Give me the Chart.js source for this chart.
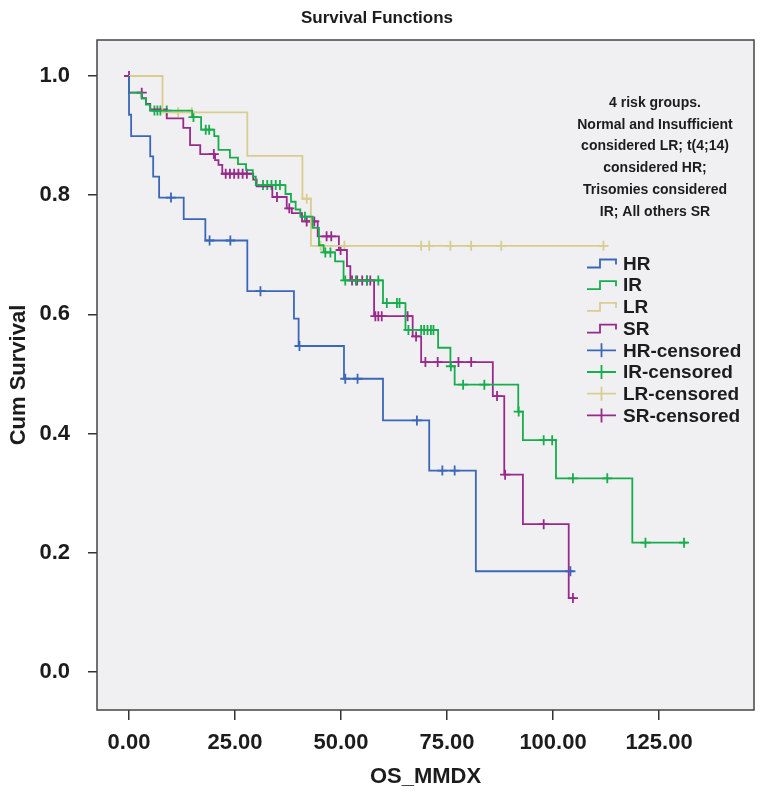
<!DOCTYPE html>
<html>
<head>
<meta charset="utf-8">
<script src="https://cdn.jsdelivr.net/npm/chart.js@4.4.0/dist/chart.umd.min.js"></script>
<style>
  body { margin: 0; background: #fff; }
</style>
</head>
<body>
<canvas id="grafico" width="764" height="798"></canvas>
<script>
// eixos
const xTicks = [0, 25, 50, 75, 100, 125];
const yTicks = [0, 0.2, 0.4, 0.6, 0.8, 1.0];

// HR
const hrTimes = [0, 0.5, 5.0, 5.7, 7.1, 12.9, 18.0, 27.9, 38.9, 40.0, 50.7, 59.9, 70.8, 81.8];
const hrSurv = [0.935, 0.899, 0.865, 0.831, 0.796, 0.760, 0.724, 0.639, 0.593, 0.547, 0.492, 0.422, 0.338, 0.169];
const hrEnd = 104.6;
const hrCensored = [9.9, 19.0, 23.9, 31.0, 40.2, 51.0, 53.9, 67.9, 73.9, 76.8, 104.1];

// IR
const irTimes = [0, 3.0, 4.0, 5.0, 14.9, 17.0, 20.1, 21.1, 23.8, 25.7, 27.6, 29.2, 29.9, 36.9, 38.2, 39.3, 40.4, 43.3, 44.8, 45.9, 48.6, 50.6, 59.9, 65.2, 72.9, 75.8, 76.8, 91.8, 92.9, 100.7, 118.7];
const irSurv = [0.972, 0.962, 0.952, 0.942, 0.931, 0.910, 0.899, 0.876, 0.863, 0.852, 0.842, 0.831, 0.817, 0.802, 0.789, 0.776, 0.764, 0.745, 0.716, 0.704, 0.689, 0.657, 0.619, 0.574, 0.544, 0.513, 0.482, 0.437, 0.389, 0.325, 0.217];
const irEnd = 131.7;
const irCensored = [6.0, 6.7, 7.4, 8.9, 15.2, 18.1, 18.9, 31.6, 32.6, 33.6, 34.6, 35.6, 41.5, 46.3, 47.5, 51.0, 53.5, 56.1, 58.8, 60.8, 63.2, 63.8, 65.9, 68.9, 69.6, 70.4, 71.2, 71.8, 75.9, 78.8, 83.8, 91.9, 97.8, 99.8, 104.7, 112.8, 121.8, 130.9];

// LR
const lrTimes = [7.9, 27.9, 40.9, 42.9];
const lrSurv = [0.939, 0.866, 0.794, 0.715];
const lrEnd = 112.4;
const lrCensored = [11.6, 14.8, 41.9, 45.2, 50.8, 68.9, 70.8, 75.8, 80.7, 87.8, 111.9];

// SR
const srTimes = [0, 3.0, 4.0, 5.0, 8.9, 12.8, 14.4, 16.8, 20.3, 21.1, 22.0, 29.3, 30.1, 33.8, 37.2, 38.4, 40.8, 44.5, 49.5, 51.4, 52.2, 57.8, 66.9, 68.9, 85.8, 88.5, 92.9, 103.7];
const srSurv = [0.972, 0.963, 0.953, 0.944, 0.929, 0.913, 0.884, 0.869, 0.859, 0.851, 0.836, 0.826, 0.815, 0.797, 0.778, 0.770, 0.756, 0.731, 0.708, 0.681, 0.657, 0.597, 0.563, 0.520, 0.463, 0.331, 0.248, 0.124];
const srEnd = 105.3;
const srCensored = [0, 3.0, 20.0, 22.8, 23.8, 24.8, 25.8, 26.8, 27.8, 34.9, 37.8, 41.9, 42.9, 43.7, 46.6, 47.7, 49.9, 52.6, 53.8, 55.0, 56.1, 56.9, 58.1, 58.8, 59.6, 65.7, 67.7, 69.9, 72.8, 77.7, 80.7, 86.8, 88.7, 97.8, 104.7];

const notaLinhas = ['4 risk groups.', 'Normal and Insufficient', 'considered LR; t(4;14)', 'considered HR;', 'Trisomies considered', 'IR; All others SR'];

const cores = { HR: '#3b67b8', IR: '#17ad4c', LR: '#d8cd8f', SR: '#982a8b' };
const fonte = "'Liberation Sans', Arial, sans-serif";

function curva(times, surv, end) {
    const pts = [{ x: 0, y: 1 }];
    times.forEach((t, i) => pts.push({ x: t, y: surv[i] }));
    pts.push({ x: end, y: surv[surv.length - 1] });
    return pts;
}

function survAt(times, surv, t) {
    let s = 1;
    times.forEach((ti, i) => { if (ti < t) s = surv[i]; });
    return s;
}

function censurados(times, surv, cens) {
    return cens.map(t => ({ x: t, y: survAt(times, surv, t) }));
}

const grupos = [
    { nome: 'HR', times: hrTimes, surv: hrSurv, end: hrEnd, cens: hrCensored },
    { nome: 'IR', times: irTimes, surv: irSurv, end: irEnd, cens: irCensored },
    { nome: 'LR', times: lrTimes, surv: lrSurv, end: lrEnd, cens: lrCensored },
    { nome: 'SR', times: srTimes, surv: srSurv, end: srEnd, cens: srCensored }
];

const datasets = [];
grupos.forEach(g => {
    datasets.push({
        label: g.nome,
        data: curva(g.times, g.surv, g.end),
        showLine: true,
        stepped: 'before',
        borderColor: cores[g.nome],
        borderWidth: 1.8,
        pointRadius: 0,
        fill: false
    });
});
grupos.forEach(g => {
    datasets.push({
        label: g.nome + '-censored',
        data: censurados(g.times, g.surv, g.cens),
        showLine: false,
        pointStyle: 'cross',
        pointRadius: 5,
        borderColor: cores[g.nome],
        borderWidth: 1.8
    });
});

// fundo, moldura, nota e legenda
const moldura = {
    id: 'moldura',
    beforeDraw(chart) {
        const { ctx, chartArea: a } = chart;
        ctx.save();
        ctx.fillStyle = '#f0f0f3';
        ctx.fillRect(a.left, a.top, a.right - a.left, a.bottom - a.top);
        ctx.restore();
    },
    afterDraw(chart) {
        const { ctx, chartArea: a } = chart;
        ctx.save();
        ctx.strokeStyle = '#444';
        ctx.lineWidth = 1.5;
        ctx.strokeRect(a.left, a.top, a.right - a.left, a.bottom - a.top);

        ctx.fillStyle = '#1c1c1c';
        ctx.font = 'bold 14px ' + fonte;
        ctx.textAlign = 'center';
        ctx.textBaseline = 'middle';
        notaLinhas.forEach((l, i) => ctx.fillText(l, 655, 103 + i * 21.8));

        ctx.font = 'bold 19px ' + fonte;
        ctx.textAlign = 'left';
        ctx.lineWidth = 1.8;
        const itens = grupos.map(g => ({ nome: g.nome, cens: false }))
            .concat(grupos.map(g => ({ nome: g.nome, cens: true })));
        itens.forEach((it, i) => {
            const cy = 263.5 + i * 21.7;
            ctx.strokeStyle = cores[it.nome];
            ctx.beginPath();
            if (it.cens) {
                ctx.moveTo(587, cy); ctx.lineTo(616, cy);
                ctx.moveTo(601.5, cy - 7); ctx.lineTo(601.5, cy + 7);
            } else {
                ctx.moveTo(587, cy + 4); ctx.lineTo(600, cy + 4);
                ctx.lineTo(600, cy - 4); ctx.lineTo(616, cy - 4);
                ctx.lineTo(616, cy + 1);
            }
            ctx.stroke();
            ctx.fillText(it.nome + (it.cens ? '-censored' : ''), 623, cy + 1);
        });
        ctx.restore();
    }
};

const ctx = document.getElementById('grafico').getContext('2d');
const grafico = new Chart(ctx, {
    type: 'scatter',
    data: { datasets },
    plugins: [moldura],
    options: {
        responsive: false,
        animation: false,
        devicePixelRatio: 1,
        layout: { padding: { top: 0, right: 10, bottom: 0, left: 0 } },
        plugins: {
            legend: { display: false },
            tooltip: { enabled: false },
            title: {
                display: true,
                text: 'Survival Functions',
                color: '#1c1c1c',
                font: { family: fonte, size: 17, weight: 'bold' },
                padding: { top: 8, bottom: 11.6 }
            }
        },
        scales: {
            x: {
                type: 'linear',
                min: -7.55,
                max: 147.4,
                afterFit: s => { s.height = 88; },
                afterBuildTicks: s => { s.ticks = xTicks.map(v => ({ value: v })); },
                border: { display: false },
                grid: { drawOnChartArea: false, drawTicks: true, tickLength: 10, color: '#333', lineWidth: 1.5 },
                ticks: {
                    color: '#1c1c1c',
                    padding: 10,
                    maxRotation: 0,
                    autoSkip: false,
                    font: { family: fonte, size: 22, weight: 'bold' },
                    callback: v => v.toFixed(2)
                },
                title: {
                    display: true,
                    text: 'OS_MMDX',
                    color: '#1c1c1c',
                    font: { family: fonte, size: 22, weight: 'bold' },
                    padding: { top: 0, bottom: 8 }
                }
            },
            y: {
                min: -0.0638,
                max: 1.0604,
                afterFit: s => { s.width = 97; },
                afterBuildTicks: s => { s.ticks = yTicks.map(v => ({ value: v })); },
                border: { display: false },
                grid: { drawOnChartArea: false, drawTicks: true, tickLength: 9, color: '#333', lineWidth: 1.5 },
                ticks: {
                    color: '#1c1c1c',
                    padding: 18,
                    font: { family: fonte, size: 22, weight: 'bold' },
                    callback: v => v.toFixed(1)
                },
                title: {
                    display: true,
                    text: 'Cum Survival',
                    color: '#1c1c1c',
                    font: { family: fonte, size: 22, weight: 'bold' },
                    padding: { top: 6, bottom: 0 }
                }
            }
        }
    }
});
</script>
</body>
</html>
